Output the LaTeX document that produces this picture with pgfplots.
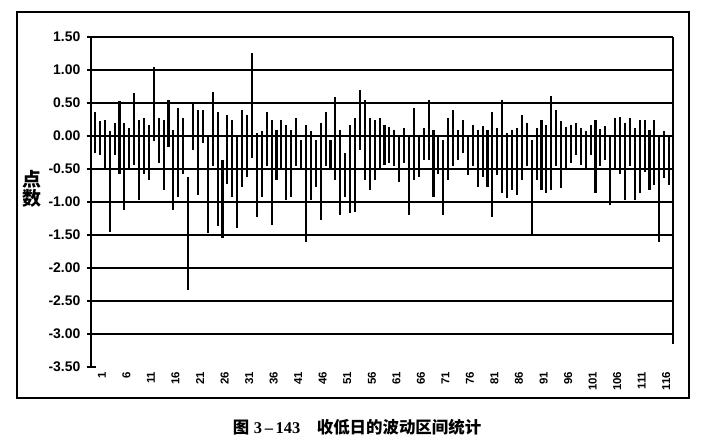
\documentclass[border=0pt]{standalone}
\usepackage{fontspec}
\setmainfont{Liberation Sans}
\newfontfamily\cjk{Noto Sans CJK SC}
\newfontfamily\serif{Liberation Serif}
\usepackage{pgfplots}
\pgfplotsset{compat=1.18}
\usepackage{pgfplotstable}

\pgfplotstableread{
x hi lo
1 0.37 -0.26
2 0.22 -0.29
3 0.24 -0.49
4 0.08 -1.45
5 0.19 -0.29
6 0.53 -0.57
7 0.19 -1.12
8 0.12 -0.52
9 0.65 -0.44
10 0.24 -0.97
11 0.27 -0.57
12 0.17 -0.67
13 1.04 -0.08
14 0.27 -0.41
15 0.24 -0.82
16 0.55 -0.16
17 0.09 -1.12
18 0.42 -0.92
19 0.27 -0.57
20 -0.62 -2.33
21 0.52 -0.21
22 0.39 -0.89
23 0.39 -0.11
24 0.00 -1.47
25 0.67 -0.46
26 0.37 -1.37
27 -0.36 -1.55
28 0.32 -0.72
29 0.24 -0.92
30 -0.01 -1.40
31 0.39 -0.77
32 0.32 -0.62
33 1.25 -0.34
34 0.04 -1.22
35 0.07 -0.92
36 0.37 -0.46
37 0.24 -1.35
38 0.09 -0.67
39 0.24 -0.52
40 0.17 -0.97
41 0.09 -0.92
42 0.27 -0.46
43 -0.06 -0.49
44 0.17 -1.60
45 0.07 -0.97
46 -0.06 -0.77
47 0.19 -1.27
48 0.37 -0.46
49 -0.06 -0.52
50 0.59 -0.67
51 0.09 -1.20
52 -0.26 -0.92
53 0.17 -1.17
54 0.27 -1.15
55 0.70 -0.21
56 0.55 -0.67
57 0.27 -0.82
58 0.24 -0.67
59 0.27 -0.52
60 0.17 -0.44
61 0.14 -0.41
62 0.09 -0.46
63 -0.01 -0.69
64 0.12 -0.41
65 -0.01 -1.20
66 0.42 -0.67
67 -0.01 -0.62
68 0.12 -0.36
69 0.55 -0.36
70 0.09 -0.92
71 0.02 -0.57
72 -0.06 -1.20
73 0.27 -0.67
74 0.39 -0.46
75 0.09 -0.36
76 0.24 -0.26
77 -0.01 -0.59
78 0.17 -0.46
79 0.09 -0.77
80 0.15 -0.62
81 0.09 -0.77
82 0.37 -1.22
83 0.12 -0.59
84 0.55 -0.87
85 0.04 -0.94
86 0.09 -0.82
87 0.12 -0.89
88 0.32 -0.67
89 0.20 -0.46
90 -0.06 -1.52
91 0.12 -0.67
92 0.24 -0.82
93 0.17 -0.87
94 0.61 -0.82
95 0.39 -0.46
96 0.22 -0.79
97 0.14 -0.52
98 0.17 -0.41
99 0.19 -0.29
100 0.12 -0.44
101 0.07 -0.52
102 0.17 -0.29
103 0.24 -0.87
104 0.10 -0.46
105 0.15 -0.36
106 -0.01 -1.05
107 0.27 -0.49
108 0.29 -0.57
109 0.19 -0.97
110 0.27 -0.46
111 0.12 -0.97
112 0.24 -0.87
113 0.24 -0.54
114 0.09 -0.82
115 0.24 -0.74
116 -0.01 -1.60
117 0.07 -0.64
118 -0.01 -0.74
}\datatable

\begin{document}
\begin{tikzpicture}[x=1bp,y=1bp]
\path[use as bounding box] (0,0) rectangle (713,443);
\draw[line width=1.5bp] (17,45) rectangle (689,431);
\begin{axis}[
  at={(91bp,76bp)}, anchor=south west,
  scale only axis, width=582bp, height=330bp,
  xmin=0.2, xmax=118.8, ymin=-3.5, ymax=1.5,
  /pgf/number format/assume math mode=true,
  axis x line*=bottom, axis y line*=left,
  x axis line style={draw=none},
  y axis line style={line width=1.6bp, black},
  xtick={1,6,...,116},
  xtick style={draw=none},
  xticklabel style={rotate=90, anchor=east, font=\bfseries\fontsize{11.5}{11.5}\selectfont, inner sep=0pt, yshift=-7bp},
  ytick={-3.5,-3,...,1.5},
  ytick style={line width=1.6bp, black},
  tick align=center, major tick length=9bp,
  yticklabel style={font=\bfseries\fontsize{14}{14}\selectfont, inner sep=0pt, xshift=-6bp},
  yticklabel={\pgfmathprintnumber[fixed,fixed zerofill,precision=2,assume math mode=true]{\tick}},
  extra y ticks={-3,-2.5,...,1.5},
  extra y tick labels={},
  extra y tick style={grid=major, major grid style={line width=2.4bp, black}, major tick length=0pt},
  clip=false,
]
\addplot[draw=none, mark=none, forget plot,
  error bars/.cd, y dir=minus, y explicit, error mark=none,
  error bar style={draw=black, line width=2.1bp}]
  table[x=x, y=hi, y error minus expr=\thisrow{hi}-\thisrow{lo}] {\datatable};
\draw[line width=1.8bp, black] (rel axis cs:1,1) -- (rel axis cs:1,0.07);
\end{axis}
\node[font=\cjk\bfseries\fontsize{19}{19}\selectfont, align=center] at (32,254) {点\\数};
\node[font=\bfseries\fontsize{16.5}{16.5}\selectfont] at (357,16) {{\cjk 图} {\serif 3\,–\,143}\quad{\cjk 收低日的波动区间统计}};
\end{tikzpicture}
\end{document}
